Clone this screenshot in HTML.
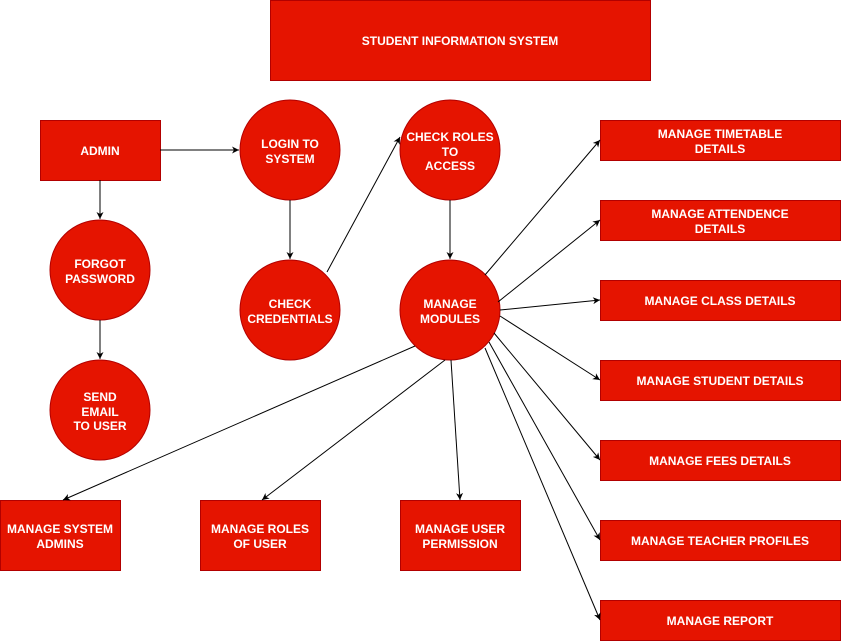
<!DOCTYPE html>
<html><head><meta charset="utf-8"><style>
html,body{margin:0;padding:0;background:#fff;}
svg{display:block;}
text{font-family:"Liberation Sans",Arial,sans-serif;font-size:12px;font-weight:bold;fill:#fff;text-anchor:middle;}
</style></head><body>
<svg width="841" height="641" viewBox="0 0 841 641" xmlns="http://www.w3.org/2000/svg">
<defs><marker id="a" markerWidth="8" markerHeight="8" refX="7" refY="4" orient="auto" markerUnits="userSpaceOnUse"><path d="M0,0.5 L7,4 L0,7.5 L2,4 Z" fill="#000"/></marker></defs>
<g fill="#e51400" stroke="#b20000" stroke-width="1">
<rect x="270.5" y="0.5" width="380" height="80"/>
<rect x="40.5" y="120.5" width="120" height="60"/>
<circle cx="290" cy="150" r="50"/>
<circle cx="450" cy="150" r="50"/>
<circle cx="100" cy="270" r="50"/>
<circle cx="290" cy="310" r="50"/>
<circle cx="450" cy="310" r="50"/>
<circle cx="100" cy="410" r="50"/>
<rect x="600.5" y="120.5" width="240" height="40"/>
<rect x="600.5" y="200.5" width="240" height="40"/>
<rect x="600.5" y="280.5" width="240" height="40"/>
<rect x="600.5" y="360.5" width="240" height="40"/>
<rect x="600.5" y="440.5" width="240" height="40"/>
<rect x="600.5" y="520.5" width="240" height="40"/>
<rect x="600.5" y="600.5" width="240" height="40"/>
<rect x="0.5" y="500.5" width="120" height="70"/>
<rect x="200.5" y="500.5" width="120" height="70"/>
<rect x="400.5" y="500.5" width="120" height="70"/>
</g>
<g stroke="#000" stroke-width="1" fill="none" marker-end="url(#a)">
<line x1="160" y1="150" x2="239" y2="150"/>
<line x1="100" y1="180" x2="100" y2="219"/>
<line x1="100" y1="320" x2="100" y2="359"/>
<line x1="290" y1="200" x2="290" y2="259"/>
<line x1="327" y1="272" x2="400" y2="137"/>
<line x1="450" y1="200" x2="450" y2="259"/>
<line x1="485" y1="275" x2="600" y2="140"/>
<line x1="498" y1="302" x2="600" y2="220"/>
<line x1="500" y1="310" x2="600" y2="300"/>
<line x1="500" y1="316" x2="600" y2="380"/>
<line x1="494" y1="333" x2="600" y2="460"/>
<line x1="489" y1="342" x2="600" y2="540"/>
<line x1="485" y1="348" x2="600" y2="620"/>
<line x1="415" y1="346" x2="63" y2="500"/>
<line x1="445" y1="360" x2="262" y2="500"/>
<line x1="451" y1="360" x2="460" y2="500"/>
</g>
<text x="460" y="45">STUDENT INFORMATION SYSTEM</text>
<text x="100" y="155">ADMIN</text>
<text x="290" y="148">LOGIN TO</text><text x="290" y="163">SYSTEM</text>
<text x="450" y="141">CHECK ROLES</text><text x="450" y="156">TO</text><text x="450" y="170">ACCESS</text>
<text x="100" y="268">FORGOT</text><text x="100" y="283">PASSWORD</text>
<text x="290" y="308">CHECK</text><text x="290" y="323">CREDENTIALS</text>
<text x="450" y="308">MANAGE</text><text x="450" y="323">MODULES</text>
<text x="100" y="401">SEND</text><text x="100" y="416">EMAIL</text><text x="100" y="430">TO USER</text>
<text x="720" y="138">MANAGE TIMETABLE</text><text x="720" y="153">DETAILS</text>
<text x="720" y="218">MANAGE ATTENDENCE</text><text x="720" y="233">DETAILS</text>
<text x="720" y="305">MANAGE CLASS DETAILS</text>
<text x="720" y="385">MANAGE STUDENT DETAILS</text>
<text x="720" y="465">MANAGE FEES DETAILS</text>
<text x="720" y="545">MANAGE TEACHER PROFILES</text>
<text x="720" y="625">MANAGE REPORT</text>
<text x="60" y="533">MANAGE SYSTEM</text><text x="60" y="548">ADMINS</text>
<text x="260" y="533">MANAGE ROLES</text><text x="260" y="548">OF USER</text>
<text x="460" y="533">MANAGE USER</text><text x="460" y="548">PERMISSION</text>
</svg>
</body></html>
